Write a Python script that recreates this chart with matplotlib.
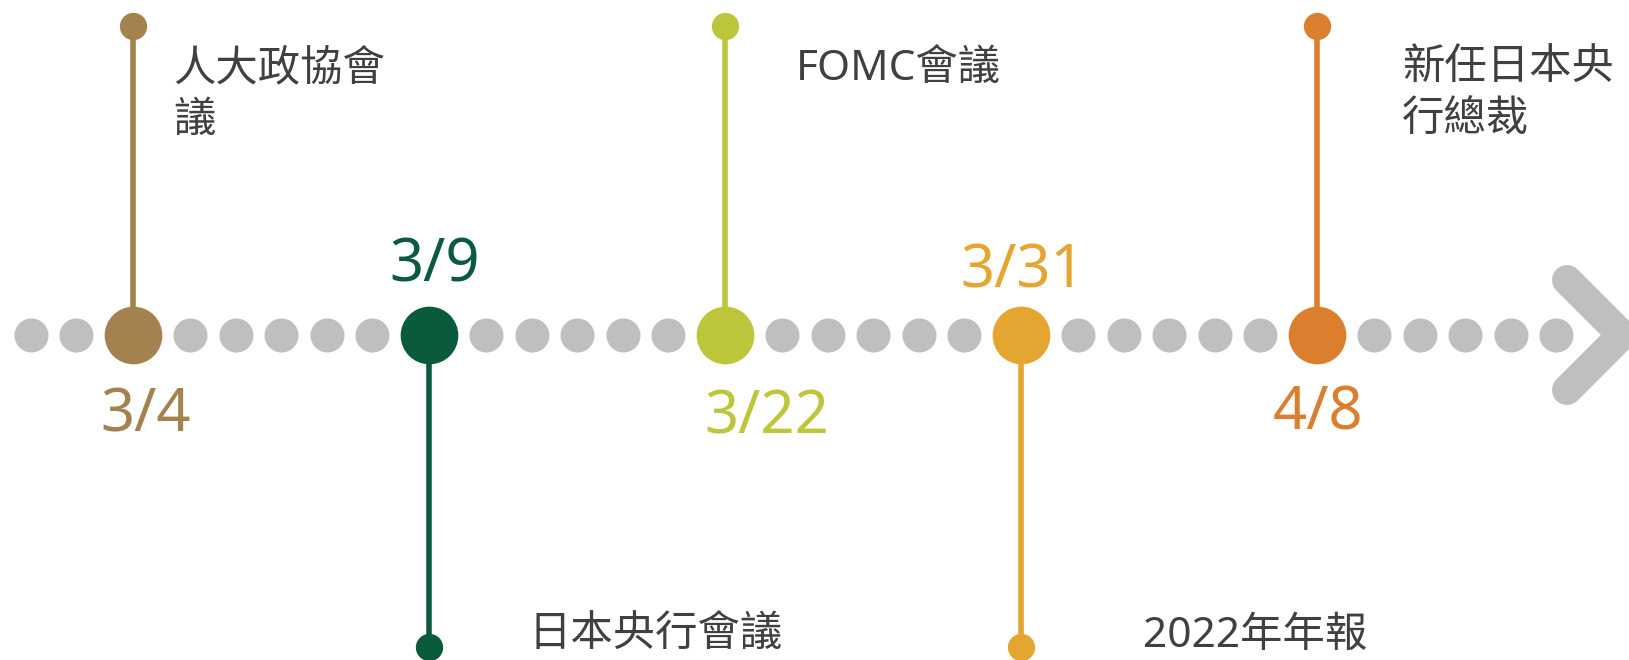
import numpy as np
import matplotlib
matplotlib.use("Agg")
import matplotlib.pyplot as plt

plt.rcParams['font.family'] = ['Noto Sans', 'Noto Sans CJK TC', 'DejaVu Sans']

# dados da linha do tempo
datas = ["3/4", "3/9", "3/22", "3/31", "4/8"]
eventos = ["人大政協會\n議", "日本央行會議", "FOMC會議", "2022年年報", "新任日本央\n行總裁"]
lados = [1, -1, 1, -1, 1]  # 1 = haste para cima, -1 = para baixo
cores = ["#A4824F", "#0A5A3C", "#BDC63B", "#E5A531", "#DB7F2E"]

# layout (em pixels da figura)
x0, passo = 133, 296
altura_haste = [309, 312]          # cima / baixo
desloc_rotulo = [40, 100, 71, 122, 85]
desloc_data_x = [13, 5.5, 42, 1.5, 1]
base_data_y = [-97, 53, -98, 47, -95]
cinza = "#BFBFBF"
cor_texto = "#404040"

fig = plt.figure(figsize=(16.29, 6.6), dpi=100)
ax = fig.add_axes([0, 0, 1, 1])
ax.set_xlim(0, 1629)
ax.set_ylim(-325, 335)
ax.axis('off')

x_eventos = x0 + passo * np.arange(len(datas))

# pontinhos cinzas entre os eventos
desloc = np.linspace(57.5, 239, 5)
x_cinza = np.concatenate([xe + desloc for xe in np.append(x_eventos[0] - passo, x_eventos)])
x_cinza = x_cinza[x_cinza > 0]
ax.scatter(x_cinza, np.zeros_like(x_cinza), s=600, color=cinza, linewidths=0, zorder=2)

# seta no final
ax.plot([1567, 1622, 1567], [55, 0, -55], color=cinza, lw=21.6,
        solid_capstyle='round', solid_joinstyle='round', zorder=2)

for i, (xe, data, ev, lado, cor) in enumerate(zip(x_eventos, datas, eventos, lados, cores)):
    topo = altura_haste[0] if lado > 0 else -altura_haste[1]
    ax.plot([xe, xe], [0, topo], color=cor, lw=4, zorder=1)
    ax.scatter([xe], [topo], s=387, color=cor, linewidths=0, zorder=3)
    ax.scatter([xe], [0], s=1725, color=cor, linewidths=0, zorder=3)

    ax.text(xe + desloc_data_x[i], base_data_y[i], data, color=cor, fontsize=43,
            ha='center', va='baseline', zorder=4)

    if lado > 0:
        y_linha = 255
    else:
        y_linha = -312
    for linha in ev.split("\n"):
        ax.text(xe + desloc_rotulo[i], y_linha, linha, color=cor_texto, fontsize=30.5,
                fontweight='light', ha='left', va='baseline', zorder=4)
        y_linha -= 52

fig.savefig("out.png", dpi=100)
